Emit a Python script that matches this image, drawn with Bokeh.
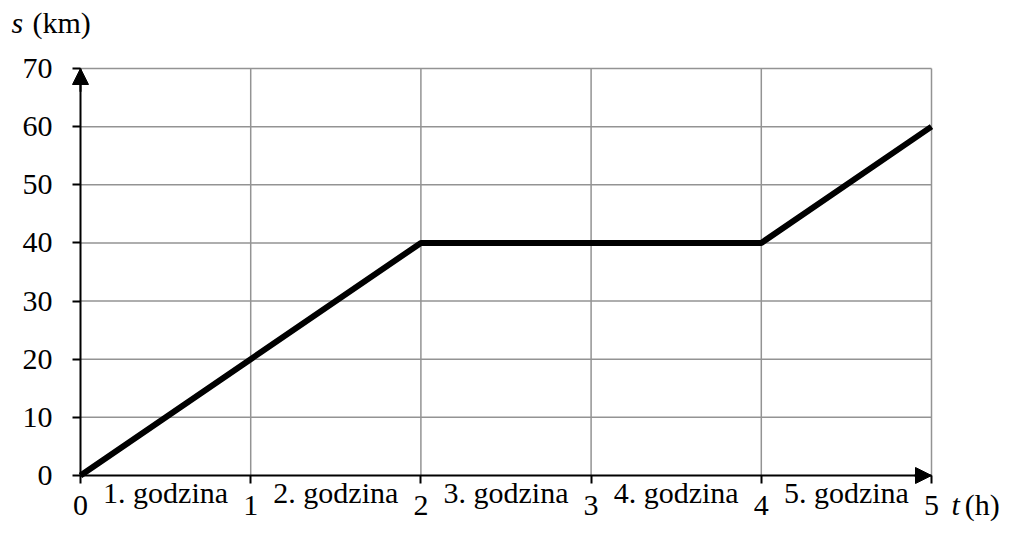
from bokeh.plotting import figure
from bokeh.models import Range1d, FixedTicker, Arrow, NormalHead
from bokeh.core.properties import value
from bokeh.embed import file_html
from bokeh.resources import INLINE

# data
t_values = [0, 1, 2, 3, 4, 5]
s_values = [0, 20, 40, 40, 40, 60]
x_ticks = [0, 1, 2, 3, 4, 5]
y_ticks = [0, 10, 20, 30, 40, 50, 60, 70]
x_grid = [1, 2, 3, 4, 5]
y_grid = [10, 20, 30, 40, 50, 60, 70]
hour_labels = ["1. godzina", "2. godzina", "3. godzina", "4. godzina", "5. godzina"]
hour_centers = [0.5, 1.5, 2.5, 3.5, 4.5]
T_MAX = 5
S_MAX = 70

FONT = "Liberation Serif"
FS = "30px"
GRID = "#939393"

W, H = 1001, 522
PX_X = 170.2      # pixels per hour
PX_Y = 5.8143     # pixels per km
X0, Y0 = 80, 475  # origin in canvas pixels

p = figure(width=W, height=H, output_backend="svg", toolbar_location=None,
           x_range=Range1d(-X0 / PX_X, (W - X0) / PX_X),
           y_range=Range1d(-(H - Y0) / PX_Y, Y0 / PX_Y),
           min_border=0)
p.background_fill_color = "white"
p.border_fill_color = "white"
p.outline_line_color = None
p.grid.visible = False

# grid
p.segment(x0=x_grid, y0=[0] * len(x_grid), x1=x_grid, y1=[S_MAX] * len(x_grid),
          line_color=GRID, line_width=1.5)
p.segment(x0=[0] * len(y_grid), y0=y_grid, x1=[T_MAX] * len(y_grid), y1=y_grid,
          line_color=GRID, line_width=1.5)

# axes at the origin
p.xaxis.fixed_location = 0
p.yaxis.fixed_location = 0
p.xaxis.bounds = (0, T_MAX)
p.yaxis.bounds = (0, S_MAX)
for ax, ticks in ((p.xaxis, x_ticks), (p.yaxis, y_ticks)):
    ax.ticker = FixedTicker(ticks=ticks)
    ax.axis_line_color = "black"
    ax.axis_line_width = 2
    ax.major_tick_line_color = "black"
    ax.major_tick_line_width = 2
    ax.major_tick_in = 0
    ax.major_tick_out = 8
    ax.minor_tick_line_color = None
    ax.major_label_text_font = FONT
    ax.major_label_text_font_size = FS
    ax.major_label_text_color = "black"
p.xaxis.major_label_standoff = 12
p.yaxis.major_label_standoff = 20

p.line(t_values, s_values, line_color="black", line_width=6)

# arrow heads
p.add_layout(Arrow(end=NormalHead(size=16, fill_color="black", line_color="black"),
                   x_start=0, y_start=S_MAX - 4, x_end=0, y_end=S_MAX,
                   line_color="black", line_width=2))
p.add_layout(Arrow(end=NormalHead(size=16, fill_color="black", line_color="black"),
                   x_start=T_MAX - 0.1, y_start=0, x_end=T_MAX, y_end=0,
                   line_color="black", line_width=2))

# texts
p.text(x=hour_centers, y=[-2.924] * len(hour_centers), text=hour_labels,
       text_align="center", text_baseline="alphabetic",
       text_font=value(FONT), text_font_size=FS, text_color="black")
p.text(x=[-0.4054], y=[77.91], text=["s"], text_font=value(FONT), text_font_size=FS,
       text_font_style="italic", text_baseline="alphabetic", text_color="black")
p.text(x=[-0.282], y=[77.91], text=["(km)"], text_font=value(FONT), text_font_size=FS,
       text_baseline="alphabetic", text_color="black")
p.text(x=[5.1175], y=[-4.988], text=["t"], text_font=value(FONT), text_font_size=FS,
       text_font_style="italic", text_baseline="alphabetic", text_color="black")
p.text(x=[5.196], y=[-4.988], text=["(h)"], text_font=value(FONT), text_font_size=FS,
       text_baseline="alphabetic", text_color="black")

open("out.html", "w").write(file_html(p, INLINE))
